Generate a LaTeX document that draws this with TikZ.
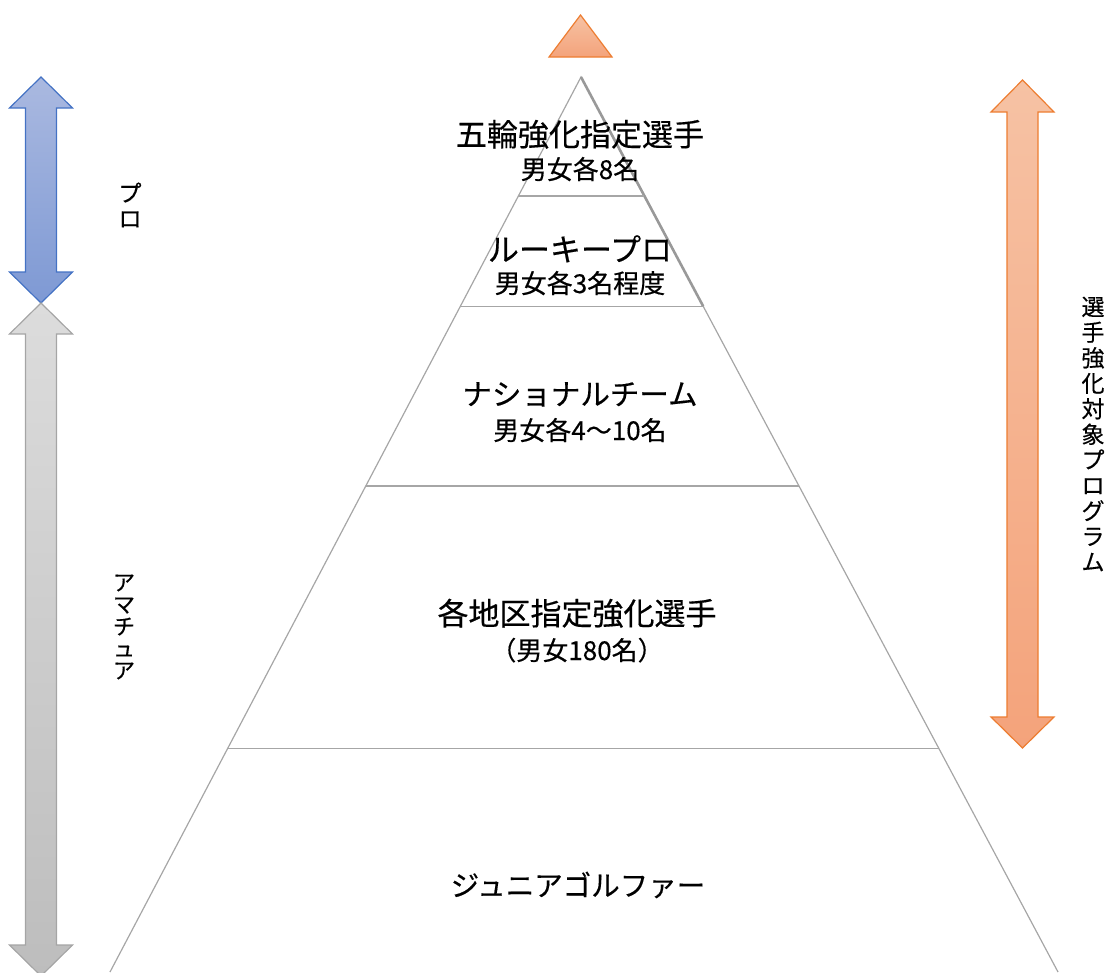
\documentclass[tikz,border=0pt]{standalone}
\usepackage{fontspec}
\setmainfont[FakeBold=0.4]{Noto Sans CJK JP}
\usetikzlibrary{calc}
\definecolor{edgegray}{HTML}{A6A6A6}
\definecolor{blueedge}{HTML}{4472C4}
\definecolor{bluetop}{HTML}{AAB9E0}
\definecolor{bluebot}{HTML}{7E99D4}
\definecolor{grayedge}{HTML}{A5A5A5}
\definecolor{graytop}{HTML}{DCDCDC}
\definecolor{graybot}{HTML}{BDBDBD}
\definecolor{orangeedge}{HTML}{ED7D31}
\definecolor{orangetop}{HTML}{F6C2A4}
\definecolor{orangebot}{HTML}{F4A37B}
\tikzset{
every picture/.style={
line width=1.2pt
}}

\begin{document}
\begin{tikzpicture}[x=1pt, y=-1pt,
title/.style = {anchor=base, inner sep=0pt, font=\fontsize{31}{33}\selectfont},
sub/.style = {anchor=base, inner sep=0pt, font=\fontsize{26}{28}\selectfont},
vtext/.style = {align=center, inner sep=0pt, font=\fontsize{23}{25.5}\selectfont}]
\useasboundingbox (0,0) rectangle (1107,972);

% pyramid
\coordinate (apex) at (581,77);
\coordinate (bl) at (110,972);
\coordinate (br) at (1058,972);
\draw[edgegray] (bl) -- (apex) -- (br);
\draw[gray!80, line width=2.6pt] (apex) -- ($(apex)!0.256!(br)$);
\foreach \t in {0.133,0.256,0.457,0.750}
  \draw[edgegray] ($(apex)!\t!(bl)$) -- ($(apex)!\t!(br)$);

% top marker
\draw[orangeedge, top color=orangetop, bottom color=orangebot]
  (549,57) -- (580.5,15) -- (612,57) -- cycle;

% left arrows
\draw[blueedge, top color=bluetop, bottom color=bluebot]
  (41,77) -- (72.5,108) -- (56.5,108) -- (56.5,272) -- (72.5,272) -- (41,303)
  -- (9.5,272) -- (25.5,272) -- (25.5,108) -- (9.5,108) -- cycle;
\draw[grayedge, top color=graytop, bottom color=graybot]
  (41,303) -- (72.5,334) -- (56.5,334) -- (56.5,945) -- (72.5,945) -- (41,976)
  -- (9.5,945) -- (25.5,945) -- (25.5,334) -- (9.5,334) -- cycle;

% right arrow
\draw[orangeedge, top color=orangetop, bottom color=orangebot]
  (1022.5,80) -- (1054,112) -- (1038,112) -- (1038,717) -- (1054,717) -- (1022.5,748)
  -- (991,717) -- (1007,717) -- (1007,112) -- (991,112) -- cycle;

% level texts
\node[title] (gorin) at (580,146) {五輪強化指定選手};
\node[sub] (gorinnum) at (580,179) {男女各8名};
\node[title] (rookie) at (580,261) {ルーキープロ};
\node[sub] (rookienum) at (580,293) {男女各3名程度};
\node[title, font=\fontsize{29.5}{32}\selectfont] (national) at (580,405) {ナショナルチーム};
\node[sub] (nationalnum) at (580,440) {男女各4～10名};
\node[title] (chiku) at (577,625) {各地区指定強化選手};
\node[sub] (chikunum) at (577,660) {（男女180名）};
\node[title, font=\fontsize{28.5}{32}\selectfont] (junior) at (578,896) {ジュニアゴルファー};

% side labels
\node[vtext] (pro) at (130,205) {プ\\ロ};
\node[vtext, font=\fontsize{22}{22}\selectfont] (amateur) at (124,627) {ア\\マ\\チ\\ュ\\ア};
\node[vtext] (program) at (1093,434) {選\\手\\強\\化\\対\\象\\プ\\ロ\\グ\\ラ\\ム};

\end{tikzpicture}
\end{document}
